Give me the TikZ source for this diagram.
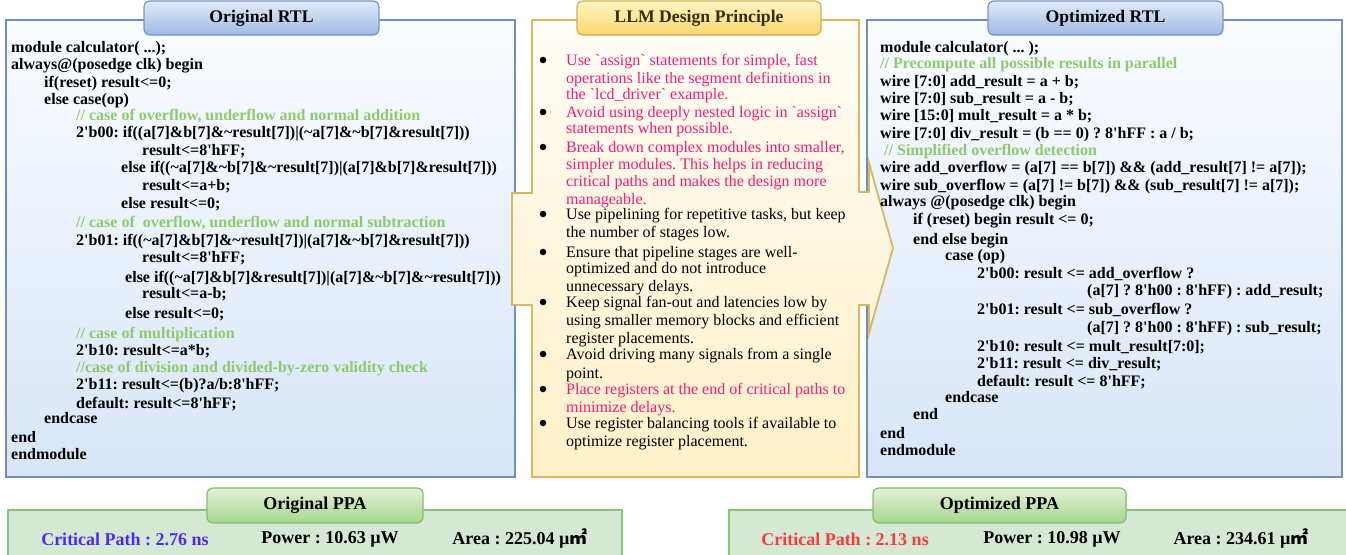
\documentclass[tikz,border=0pt]{standalone}
\usepackage{fontspec}
\setmainfont{Liberation Serif}
\newfontfamily\rawserif[Ligatures=TeXOff]{Liberation Serif}
\newfontfamily\cjk{Noto Sans CJK SC}
\newcommand\tld{\textasciitilde}
\frenchspacing
\definecolor{bluebd}{RGB}{112,142,194}
\definecolor{bluetop}{RGB}{250,252,255}
\definecolor{bluebot}{RGB}{216,229,247}
\definecolor{tabbtop}{RGB}{226,235,250}
\definecolor{tabbbot}{RGB}{158,186,226}
\definecolor{tabbbd}{RGB}{118,148,200}
\definecolor{yelbd}{RGB}{214,184,98}
\definecolor{yeltop}{RGB}{255,253,246}
\definecolor{yelbot}{RGB}{255,240,200}
\definecolor{tabytop}{RGB}{255,246,196}
\definecolor{tabybot}{RGB}{249,214,110}
\definecolor{tabybd}{RGB}{210,174,80}
\definecolor{tabytxt}{RGB}{55,45,10}
\definecolor{grnfill}{RGB}{213,232,212}
\definecolor{grnbd}{RGB}{140,195,120}
\definecolor{tabgtop}{RGB}{226,242,216}
\definecolor{tabgbot}{RGB}{166,214,140}
\definecolor{tabgbd}{RGB}{130,188,108}
\definecolor{cmtgreen}{RGB}{140,202,110}
\definecolor{pinktxt}{RGB}{240,30,122}
\definecolor{cpblue}{RGB}{80,40,245}
\definecolor{cpred}{RGB}{245,60,60}
\tikzset{
  cb/.style={anchor=base west,inner sep=0pt,font=\rawserif\bfseries\fontsize{16}{18}\selectfont\frenchspacing,text=black},
  cg/.style={cb,text=cmtgreen},
  bk/.style={anchor=base west,inner sep=0pt,font=\rawserif\fontsize{16}{18}\selectfont\frenchspacing,text=black},
  pk/.style={bk,text=pinktxt},
  bluebox/.style={draw=bluebd,line width=2.5pt,top color=bluetop,bottom color=bluebot},
  tabblue/.style={draw=tabbbd,line width=1.2pt,rounded corners=6pt,top color=tabbtop,bottom color=tabbbot,
     font=\bfseries\fontsize{17.7}{20}\selectfont,text=black,inner sep=0pt},
  tabyel/.style={draw=tabybd,line width=1.2pt,rounded corners=6pt,top color=tabytop,bottom color=tabybot,
     font=\bfseries\fontsize{17.7}{20}\selectfont,text=tabytxt,inner sep=0pt},
  tabgrn/.style={draw=tabgbd,line width=1.2pt,rounded corners=6pt,top color=tabgtop,bottom color=tabgbot,
     font=\bfseries\fontsize{18}{20}\selectfont,text=black,inner sep=0pt},
  grnbox/.style={draw=grnbd,line width=1.8pt,fill=grnfill},
  ppa/.style={anchor=center,inner sep=0pt,font=\bfseries\fontsize{18}{20}\selectfont\frenchspacing},
  bul/.style={circle,fill=black,inner sep=0pt,minimum size=6.5pt},
}
\begin{document}
\begin{tikzpicture}[x=1pt,y=-1pt]
\useasboundingbox (0,0) rectangle (1346,554);
% boxes
\path[bluebox] (6,20) rectangle (515,477);
\path[bluebox] (867,20) rectangle (1342,477);
\path[draw=yelbd,line width=1.8pt,top color=yeltop,bottom color=yelbot]
  (532,20) -- (859,20) -- (859,192) -- (869,192) -- (869,163) -- (893,248) -- (869,333) -- (869,305)
  -- (859,305) -- (859,477) -- (532,477) -- (532,305) -- (512,305) -- (512,193) -- (532,193) -- cycle;
\path[grnbox] (8,510) rectangle (622,562);
\path[grnbox] (729,510) rectangle (1352,562);
% tabs
\node[tabblue,minimum width=235pt,minimum height=34pt] (tabL) at (261.5,18) {Original RTL};
\node[tabblue,minimum width=235pt,minimum height=34pt] (tabR) at (1105.5,18) {Optimized RTL};
\node[tabyel,minimum width=244pt,minimum height=34pt] (tabM) at (699,18) {LLM Design Principle};
\node[tabgrn,minimum width=216pt,minimum height=35pt] (tabPL) at (315,505.5) {Original PPA};
\node[tabgrn,minimum width=253pt,minimum height=35pt] (tabPR) at (999.5,505.5) {Optimized PPA};
% left code
\foreach \x/\y/\st/\txt [count=\i] in {
 11/52/cb/{module calculator( ...);},
 11/69/cb/{always@(posedge clk) begin},
 44/87/cb/{if(reset) result<=0;},
 44/104/cb/{else case(op)},
 76/120/cg/{// case of overflow, underflow and normal addition},
 76/137/cb/{2'b00: if((a[7]\&b[7]\&\tld result[7])|(\tld a[7]\&\tld b[7]\&result[7]))},
 142/155/cb/{result<=8'hFF;},
 121/172/cb/{else if((\tld a[7]\&\tld b[7]\&\tld result[7])|(a[7]\&b[7]\&result[7]))},
 142/190/cb/{result<=a+b;},
 121/208/cb/{else result<=0;},
 76/227/cg/{// case of \ overflow, underflow and normal subtraction},
 76/245/cb/{2'b01: if((\tld a[7]\&b[7]\&\tld result[7])|(a[7]\&\tld b[7]\&result[7]))},
 142/262/cb/{result<=8'hFF;},
 125/282/cb/{else if((\tld a[7]\&b[7]\&result[7])|(a[7]\&\tld b[7]\&\tld result[7]))},
 142/298/cb/{result<=a-b;},
 125/318/cb/{else result<=0;},
 76/338/cg/{// case of multiplication},
 76/355/cb/{2'b10: result<=a*b;},
 76/372/cg/{//case of division and divided-by-zero validity check},
 76/389/cb/{2'b11: result<=(b)?a/b:8'hFF;},
 76/408/cb/{default: result<=8'hFF;},
 44/423/cb/{endcase},
 11/442/cb/{end},
 11/459/cb/{endmodule}}
 {\node[\st] (L\i) at (\x,\y) {\txt};}
% right code
\foreach \x/\y/\st/\txt [count=\i] in {
 880/52/cb/{module calculator( ... );},
 880/68/cg/{// Precompute all possible results in parallel},
 880/86/cb/{wire [7:0] add\_result = a + b;},
 880/103/cb/{wire [7:0] sub\_result = a - b;},
 880/120/cb/{wire [15:0] mult\_result = a * b;},
 880/138/cb/{wire [7:0] div\_result = (b == 0) ? 8'hFF : a / b;},
 884/155/cg/{// Simplified overflow detection},
 880/172/cb/{wire add\_overflow = (a[7] == b[7]) \&\& (add\_result[7] != a[7]);},
 880/190/cb/{wire sub\_overflow = (a[7] != b[7]) \&\& (sub\_result[7] != a[7]);},
 880/206/cb/{always @(posedge clk) begin},
 913/224/cb/{if (reset) begin result <= 0;},
 913/244/cb/{end else begin},
 945/260/cb/{case (op)},
 977/278/cb/{2'b00: result <= add\_overflow ?},
 1087/295/cb/{(a[7] ? 8'h00 : 8'hFF) : add\_result;},
 977/314/cb/{2'b01: result <= sub\_overflow ?},
 1087/332/cb/{(a[7] ? 8'h00 : 8'hFF) : sub\_result;},
 977/351/cb/{2'b10: result <= mult\_result[7:0];},
 977/368/cb/{2'b11: result <= div\_result;},
 977/386/cb/{default: result <= 8'hFF;},
 945/402/cb/{endcase},
 913/419/cb/{end},
 880/438/cb/{end},
 880/455/cb/{endmodule}}
 {\node[\st] (R\i) at (\x,\y) {\txt};}
% bullets
\foreach \y [count=\i] in {60,112,147,214,252,302,354,389,423}
 {\node[bul] (B\i) at (543,\y) {};}
\foreach \y/\st/\txt [count=\i] in {
 65/pk/{Use `assign` statements for simple, fast},
 83/pk/{operations like the segment definitions in},
 99/pk/{the `lcd\_driver` example.},
 117/pk/{Avoid using deeply nested logic in `assign`},
 133/pk/{statements when possible.},
 152/pk/{Break down complex modules into smaller,},
 169/pk/{simpler modules. This helps in reducing},
 186/pk/{critical paths and makes the design more},
 204/pk/{manageable.},
 219/bk/{Use pipelining for repetitive tasks, but keep},
 237/bk/{the number of stages low.},
 257/bk/{Ensure that pipeline stages are well-},
 273/bk/{optimized and do not introduce},
 291/bk/{unnecessary delays.},
 307/bk/{Keep signal fan-out and latencies low by},
 325/bk/{using smaller memory blocks and efficient},
 343/bk/{register placements.},
 359/bk/{Avoid driving many signals from a single},
 378/bk/{point.},
 394/pk/{Place registers at the end of critical paths to},
 412/pk/{minimize delays.},
 428/bk/{Use register balancing tools if available to},
 446/bk/{optimize register placement.}}
 {\node[\st] (M\i) at (566,\y) {\txt};}
% PPA
\node[ppa,text=cpblue] (cpL) at (125,539) {Critical Path : 2.76 ns};
\node[ppa] (pwL) at (330,539) {Power : 10.63 µW};
\node[ppa] (arL) at (520,539) {Area : 225.04 µ{\cjk ㎡}};
\node[ppa,text=cpred] (cpR) at (845,539) {Critical Path : 2.13 ns};
\node[ppa] (pwR) at (1052,539) {Power : 10.98 µW};
\node[ppa] (arR) at (1241,539) {Area : 234.61 µ{\cjk ㎡}};
\end{tikzpicture}
\end{document}
